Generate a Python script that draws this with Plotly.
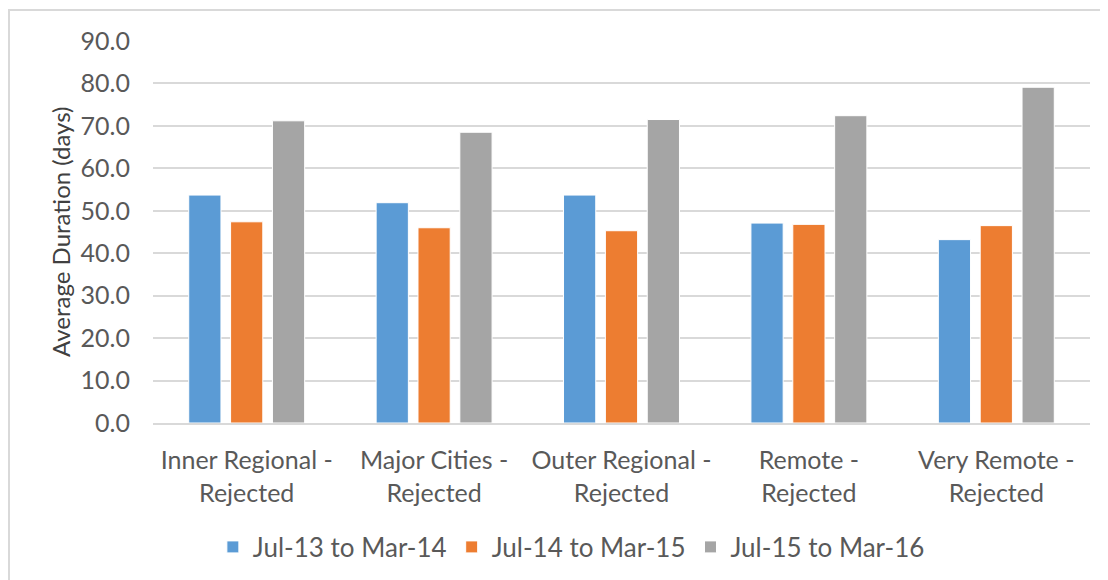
import plotly.graph_objects as go

categories = ["Inner Regional -<br>Rejected", "Major Cities -<br>Rejected", "Outer Regional -<br>Rejected",
              "Remote -<br>Rejected", "Very Remote -<br>Rejected"]
series_names = ["Jul-13 to Mar-14", "Jul-14 to Mar-15", "Jul-15 to Mar-16"]
jul13_mar14 = [53.7, 51.9, 53.7, 47.1, 43.2]
jul14_mar15 = [47.4, 46.0, 45.3, 46.8, 46.5]
jul15_mar16 = [71.2, 68.5, 71.5, 72.4, 79.1]
colors = ["#5B9BD5", "#ED7D31", "#A5A5A5"]
y_ticks = [0, 10, 20, 30, 40, 50, 60, 70, 80, 90]

FONT = "Lato"
TXT = "#595959"
OFF = 8  # page body margin
W, H = 1108 - OFF, 580 - OFF
L, R, T, B = 153 - OFF, 18, 41 - OFF, 157
pw, ph = W - L - R, H - T - B

fig = go.Figure()
for name, vals, col in zip(series_names, [jul13_mar14, jul14_mar15, jul15_mar16], colors):
    fig.add_trace(go.Bar(x=categories, y=vals, name=name, marker=dict(color=col, line=dict(color="white", width=1))))

fig.update_layout(
    width=W, height=H,
    margin=dict(l=L, r=R, t=T, b=B, autoexpand=False),
    paper_bgcolor="white", plot_bgcolor="white",
    barmode="group", bargap=0.33, bargroupgap=0.23,
    font=dict(family=FONT, size=25, color=TXT),
    showlegend=True,
    legend=dict(orientation="h", x=0.4465, xanchor="center", y=-(547 - OFF - (T + ph)) / ph, yanchor="middle",
                font=dict(size=26, color=TXT), itemwidth=30, bgcolor="rgba(0,0,0,0)"),
    xaxis=dict(showgrid=False, showline=True, linecolor="#D9D9D9", linewidth=2,
               ticks="", tickfont=dict(size=25, color=TXT), ticklabelstandoff=14, automargin=False),
    yaxis=dict(range=[0, 90], tickvals=y_ticks, tickformat=".1f", showgrid=True, gridcolor="#D9D9D9",
               gridwidth=2, zeroline=False, showline=False, ticks="", ticklabelstandoff=22,
               tickfont=dict(size=25, color=TXT), automargin=False),
    annotations=[dict(text="Average Duration (days)", xref="paper", yref="paper",
                      x=(60 - OFF - L) / pw, y=0.5, textangle=-90, showarrow=False,
                      xanchor="center", yanchor="middle", font=dict(size=24, color="#404040"))],
    shapes=[dict(type="rect", xref="paper", yref="paper",
                 x0=(1 - L) / pw, x1=(1120 - L) / pw, y0=-(600 - (T + ph)) / ph,
                 y1=(T + ph - 2) / ph,
                 line=dict(color="#D9D9D9", width=2), fillcolor="rgba(0,0,0,0)", layer="below")],
)

fig.write_html("out.html")
